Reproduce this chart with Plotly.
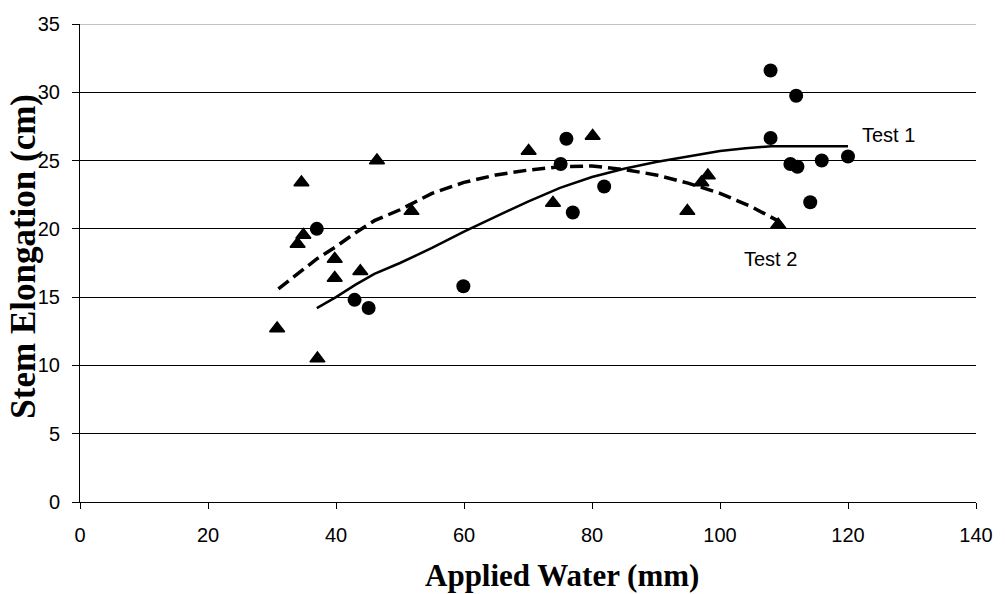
import plotly.graph_objects as go

# Observed data
test1_x = [37.0, 42.9, 45.1, 59.9, 75.1, 76.0, 77.0, 81.9, 107.9, 111.9, 107.9, 111.0, 112.1, 115.9, 120.0, 114.1]
test1_y = [20.0, 14.8, 14.2, 15.8, 24.75, 26.6, 21.2, 23.1, 31.6, 29.75, 26.65, 24.75, 24.55, 25.0, 25.3, 21.95]

test2_x = [46.4, 34.6, 34.9, 34.0, 39.8, 39.8, 43.8, 30.8, 37.1, 51.8, 70.1, 80.1, 73.9, 94.9, 98.1, 97.1, 109.1]
test2_y = [25.0, 23.4, 19.55, 18.9, 17.8, 16.4, 16.9, 12.7, 10.5, 21.3, 25.7, 26.8, 21.9, 21.3, 23.9, 23.4, 20.3]

# Fitted curves
fit1_x = [37, 40, 43, 46, 50, 55, 60, 65, 70, 75, 80, 85, 90, 95, 100, 104, 108, 120]
fit1_y = [14.2, 15.0, 15.9, 16.7, 17.5, 18.6, 19.8, 20.9, 22.0, 23.0, 23.8, 24.4, 24.9, 25.3, 25.7, 25.9, 26.05, 26.05]

fit2_x = [31, 34, 37, 40, 43, 46, 50, 55, 60, 65, 70, 75, 80, 85, 90, 95, 100, 105, 109]
fit2_y = [15.6, 16.7, 17.8, 18.7, 19.7, 20.6, 21.4, 22.6, 23.4, 23.95, 24.3, 24.55, 24.6, 24.35, 23.95, 23.35, 22.6, 21.6, 20.6]

x_ticks = [0, 20, 40, 60, 80, 100, 120, 140]
y_ticks = [0, 5, 10, 15, 20, 25, 30, 35]

SANS = "Liberation Sans, Arial"
SERIF = "Liberation Serif, Times New Roman"

fig = go.Figure()
fig.add_trace(go.Scatter(x=fit2_x, y=fit2_y, mode="lines",
                         line=dict(color="black", width=3.5, dash="13px,6px"), name="Test 2 fit"))
fig.add_trace(go.Scatter(x=fit1_x, y=fit1_y, mode="lines",
                         line=dict(color="black", width=2.5), name="Test 1 fit"))
fig.add_trace(go.Scatter(x=test1_x, y=test1_y, mode="markers",
                         marker=dict(symbol="circle", size=14, color="black"), name="Test 1"))
fig.add_trace(go.Scatter(x=test2_x, y=test2_y, mode="markers",
                         marker=dict(symbol="triangle-up", size=13, color="black",
                                     line=dict(color="black", width=1.5)), name="Test 2"))

fig.add_annotation(x=121.8, y=26.9, text="Test 1", showarrow=False, xanchor="left",
                   font=dict(family=SANS, size=20, color="black"))
fig.add_annotation(x=103.4, y=17.8, text="Test 2", showarrow=False, xanchor="left",
                   font=dict(family=SANS, size=20, color="black"))

# Axis titles
fig.add_annotation(xref="paper", yref="paper", x=0.5376, y=-0.1925, xanchor="center", yanchor="bottom",
                   text="<b>Applied Water (mm)</b>", showarrow=False, borderpad=0,
                   font=dict(family=SERIF, size=31, color="black"))
fig.add_annotation(xref="paper", yref="paper", x=-0.064, y=0.5146, xanchor="center", yanchor="middle",
                   text="<b>Stem Elongation (cm)</b>", showarrow=False, textangle=-90,
                   font=dict(family=SERIF, size=35, color="black"))

# top gridline at 35
fig.add_shape(type="line", xref="paper", yref="y", x0=0, x1=1, y0=35, y1=35,
              line=dict(color="#888888", width=1))

fig.update_layout(
    width=1005, height=594,
    margin=dict(l=80, r=21, t=24, b=92),
    paper_bgcolor="white", plot_bgcolor="white",
    showlegend=False,
    font=dict(family=SANS, size=20, color="black"),
)
fig.update_xaxes(
    range=[0, 140], tickvals=x_ticks, ticktext=[str(v) for v in x_ticks],
    showgrid=False, zeroline=False, showline=True, linecolor="black", linewidth=1,
    ticks="outside", ticklen=6, tickcolor="black", ticklabelstandoff=9,
    tickfont=dict(family=SANS, size=20),
)
fig.update_yaxes(
    range=[0, 35], tickvals=y_ticks, ticktext=[str(v) for v in y_ticks],
    showgrid=True, gridcolor="black", gridwidth=1, zeroline=False,
    showline=True, linecolor="black", linewidth=1,
    ticks="outside", ticklen=7, tickcolor="black", ticklabelstandoff=8,
    tickfont=dict(family=SANS, size=20),
)

fig.write_html("out.html")
